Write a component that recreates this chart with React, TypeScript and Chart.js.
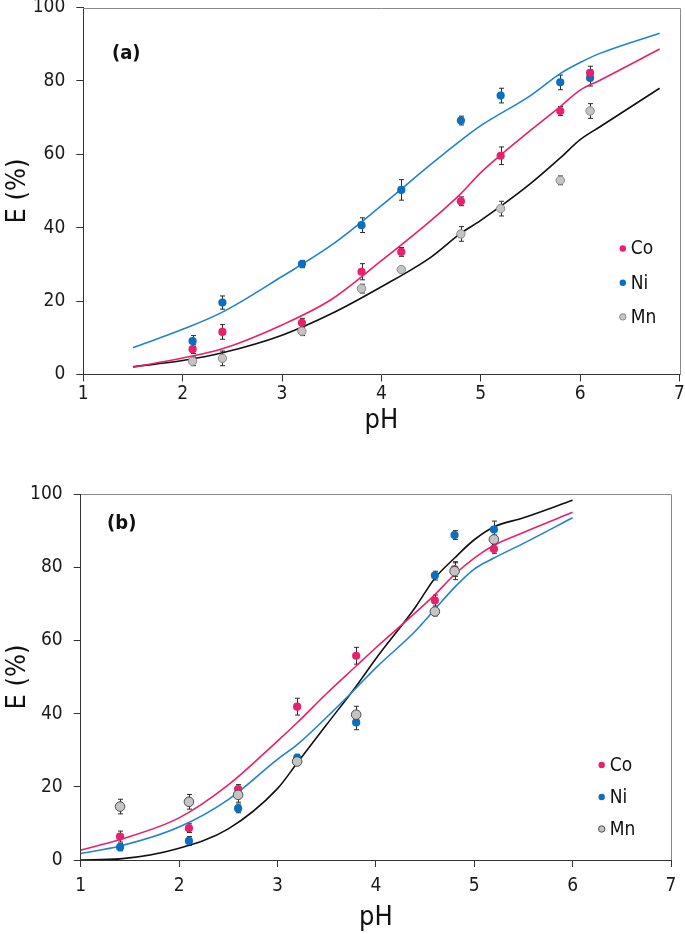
import React, { useEffect, useRef } from 'react';
import { Chart, registerables } from 'chart.js';
Chart.register(...registerables);

const FONT = "'DejaVu Sans Condensed', 'DejaVu Sans', sans-serif";
const PINK = '#E8206E';
const BLUE = '#0B6FC1';
const BLUE_LINE = '#2183CC';
const GRAY = '#C4C4C4';

// ---------- Panel (a) ----------
const phPointsA = [2.1, 2.4, 3.2, 3.8, 4.2, 4.8, 5.2, 5.8, 6.1];
const coA = [6.9, 11.6, 14.1, 28.0, 33.4, 47.2, 59.6, 71.8, 82.2];
const coErrA = [1.2, 2.0, 1.2, 2.2, 1.2, 1.2, 2.4, 1.2, 1.8];
const niA = [9.1, 19.6, 30.1, 40.7, 50.3, 69.2, 76.0, 79.6, 80.8];
const niErrA = [1.5, 1.8, 1.0, 2.0, 2.8, 1.2, 2.0, 2.0, 2.2];
const mnA = [3.6, 4.4, 11.8, 23.4, 28.6, 38.3, 45.2, 52.9, 71.8];
const mnErrA = [1.2, 2.0, 1.2, 1.2, 0.8, 2.0, 2.0, 1.2, 2.0];

const phCurveA = [1.5, 2.0, 2.4, 3.0, 3.5, 4.0, 4.5, 4.8, 5.0, 5.5, 5.8, 6.0, 6.2, 6.8];
const coCurveA = [2.0, 4.5, 7.0, 13.5, 20.5, 31.0, 42.0, 49.3, 55.0, 66.5, 73.0, 77.5, 80.2, 88.7];
const niCurveA = [7.3, 12.3, 17.0, 26.7, 35.3, 46.0, 57.3, 63.8, 67.8, 76.0, 82.0, 85.0, 87.5, 93.0];
const mnCurveA = [2.1, 3.8, 5.9, 10.7, 16.6, 23.9, 32.0, 38.5, 42.0, 52.0, 59.0, 64.0, 67.5, 78.0];

// ---------- Panel (b) ----------
const phPointsB = [1.4, 2.1, 2.6, 3.2, 3.8, 4.6, 4.8, 5.2];
const coB = [6.4, 8.7, 19.4, 41.9, 55.8, 70.9, 79.5, 85.0];
const coErrB = [1.5, 1.2, 1.2, 2.3, 2.3, 1.5, 2.0, 1.2];
const niB = [3.5, 5.2, 14.1, 27.9, 37.6, 77.7, 88.8, 90.3];
const niErrB = [1.0, 1.2, 1.2, 1.0, 2.0, 1.2, 1.2, 2.3];
const mnB = [14.6, 15.9, 17.8, 26.9, 39.7, 67.9, 78.9, 87.6];
const mnErrB = [2.0, 2.0, 2.0, 1.0, 2.3, 1.2, 2.3, 1.2];

const phCurveB = [1.0, 1.4, 2.0, 2.5, 3.0, 3.2, 3.5, 3.8, 4.0, 4.4, 4.6, 4.8, 5.0, 5.2, 5.5, 6.0];
const coCurveB = [2.7, 5.6, 11.5, 20.5, 32.5, 37.5, 45.5, 53.0, 58.0, 67.5, 72.5, 78.0, 82.5, 86.0, 89.5, 95.0];
const niCurveB = [1.8, 3.8, 9.0, 16.5, 27.5, 31.5, 39.0, 47.0, 52.5, 62.5, 68.5, 74.5, 79.5, 82.5, 86.5, 93.5];
const mnCurveB = [0.0, 0.3, 3.2, 8.5, 19.5, 26.5, 37.0, 47.5, 55.0, 69.0, 77.0, 82.5, 87.5, 91.0, 93.5, 98.3];

const legendLabels = ['Co', 'Ni', 'Mn'];
const xTicks = [1, 2, 3, 4, 5, 6, 7];
const yTicks = [0, 20, 40, 60, 80, 100];

const pts = (xs: number[], ys: number[]) => xs.map((x, i) => ({ x, y: ys[i] }));

const extrasPlugin = {
  id: 'extras',
  beforeDatasetsDraw(chart: any) {
    const ctx = chart.ctx;
    const ys = chart.scales.y;
    ctx.save();
    ctx.strokeStyle = '#2b2b2b';
    ctx.lineWidth = 1;
    chart.data.datasets.forEach((ds: any, i: number) => {
      if (!ds.errors) return;
      const meta = chart.getDatasetMeta(i);
      meta.data.forEach((el: any, j: number) => {
        const v = ds.data[j].y;
        const e = ds.errors[j];
        const x = Math.round(el.x) + 0.5;
        const y1 = ys.getPixelForValue(v + e);
        const y2 = ys.getPixelForValue(v - e);
        ctx.beginPath();
        ctx.moveTo(x, y1);
        ctx.lineTo(x, y2);
        ctx.moveTo(x - 2.5, y1);
        ctx.lineTo(x + 2.5, y1);
        ctx.moveTo(x - 2.5, y2);
        ctx.lineTo(x + 2.5, y2);
        ctx.stroke();
      });
    });
    ctx.restore();
  },
  afterDraw(chart: any, _args: any, opts: any) {
    const ctx = chart.ctx;
    const a = chart.chartArea;
    ctx.save();
    // top & right frame
    ctx.strokeStyle = '#8a8a8a';
    ctx.lineWidth = 1;
    ctx.beginPath();
    ctx.moveTo(Math.round(a.left), Math.round(a.top) + 0.5);
    ctx.lineTo(Math.round(a.right) + 0.5, Math.round(a.top) + 0.5);
    ctx.lineTo(Math.round(a.right) + 0.5, Math.round(a.bottom));
    ctx.stroke();
    // panel label
    ctx.fillStyle = '#111';
    ctx.font = `bold 20px ${FONT}`;
    ctx.textAlign = 'center';
    ctx.textBaseline = 'middle';
    ctx.fillText(opts.label, a.left + opts.labelDx, a.top + opts.labelDy);
    // legend
    const lg = opts.legend;
    ctx.font = `19px ${FONT}`;
    ctx.textAlign = 'left';
    lg.items.forEach((it: any, i: number) => {
      const x = a.left + lg.dx;
      const y = a.top + lg.dy + i * lg.gap;
      ctx.beginPath();
      ctx.arc(x, y, 3.2, 0, Math.PI * 2);
      ctx.fillStyle = it.fill;
      ctx.fill();
      if (it.stroke) {
        ctx.strokeStyle = it.stroke;
        ctx.lineWidth = 1;
        ctx.stroke();
      }
      ctx.fillStyle = '#111';
      ctx.fillText(it.text, x + 8, y + 1);
    });
    ctx.restore();
  },
};

function makeConfig(p: any) {
  const tickFont = { family: FONT, size: 19 };
  const titleFont = { family: FONT, size: 27 };
  const pointDs = (label: string, data: any, errs: number[], fill: string, stroke: string, r: number) => ({
    type: 'scatter',
    label,
    data,
    errors: errs,
    showLine: false,
    pointRadius: r,
    pointHoverRadius: r,
    backgroundColor: fill,
    borderColor: stroke,
    pointBorderWidth: stroke === fill ? 0 : 1,
  });
  const lineDs = (data: any, color: string) => ({
    type: 'scatter',
    data,
    showLine: true,
    pointRadius: 0,
    borderColor: color,
    borderWidth: 1.6,
    cubicInterpolationMode: 'monotone',
    fill: false,
  });
  return {
    type: 'scatter',
    data: {
      datasets: [
        pointDs('Mn', pts(p.ph, p.mn), p.mnErr, GRAY, p.mnStroke, p.mnR),
        pointDs('Co', pts(p.ph, p.co), p.coErr, PINK, PINK, 4.1),
        pointDs('Ni', pts(p.ph, p.ni), p.niErr, BLUE, BLUE, 4.1),
        lineDs(pts(p.phC, p.coC), PINK),
        lineDs(pts(p.phC, p.niC), BLUE_LINE),
        lineDs(pts(p.phC, p.mnC), '#111'),
      ],
    },
    options: {
      responsive: false,
      animation: false,
      events: [],
      layout: { padding: { top: p.padTop, right: p.padRight, left: 0, bottom: 0 } },
      plugins: {
        legend: { display: false },
        tooltip: { enabled: false },
        extras: {
          label: p.label,
          labelDx: p.labelDx,
          labelDy: p.labelDy,
          legend: {
            dx: p.legDx,
            dy: p.legDy,
            gap: p.legGap,
            items: [
              { text: legendLabels[0], fill: PINK },
              { text: legendLabels[1], fill: BLUE },
              { text: legendLabels[2], fill: GRAY, stroke: p.mnStroke },
            ],
          },
        },
      },
      scales: {
        x: {
          type: 'linear',
          min: 1,
          max: 7,
          afterBuildTicks: (s: any) => { s.ticks = xTicks.map((v) => ({ value: v })); },
          afterFit: (s: any) => {
            s.height = p.xH;
            s.paddingLeft = 0; s.paddingRight = 0; s.paddingTop = 0; s.paddingBottom = 0;
          },
          ticks: { font: tickFont, color: '#1a1a1a', padding: p.xTickPad, maxRotation: 0 },
          grid: { drawOnChartArea: false, drawTicks: true, tickLength: 7, color: '#333' },
          border: { color: '#333', width: 1 },
          title: { display: true, text: 'pH', font: titleFont, color: '#111', padding: { top: 0, bottom: p.xTitlePad } },
        },
        y: {
          type: 'linear',
          min: 0,
          max: 100,
          afterBuildTicks: (s: any) => { s.ticks = yTicks.map((v) => ({ value: v })); },
          afterFit: (s: any) => {
            s.width = p.yW;
            s.paddingLeft = 0; s.paddingRight = 0; s.paddingTop = 0; s.paddingBottom = 0;
          },
          ticks: { font: tickFont, color: '#1a1a1a', padding: 11 },
          grid: { drawOnChartArea: false, drawTicks: true, tickLength: 7, color: '#333' },
          border: { color: '#333', width: 1 },
          title: { display: true, text: 'E (%)', font: titleFont, color: '#111', padding: { top: p.yTitlePad, bottom: 0 } },
        },
      },
    },
    plugins: [extrasPlugin],
  };
}

function Panel(props: { top: number; height: number; cfg: any }) {
  const ref = useRef<HTMLCanvasElement>(null);
  useEffect(() => {
    const chart = new Chart(ref.current as HTMLCanvasElement, makeConfig(props.cfg) as any);
    return () => chart.destroy();
  }, []);
  return (
    <canvas
      ref={ref}
      width={685}
      height={props.height}
      style={{ position: 'absolute', left: 0, top: props.top, width: 685, height: props.height }}
    />
  );
}

const cfgA = {
  ph: phPointsA, co: coA, coErr: coErrA, ni: niA, niErr: niErrA, mn: mnA, mnErr: mnErrA,
  phC: phCurveA, coC: coCurveA, niC: niCurveA, mnC: mnCurveA,
  mnStroke: '#8c8c8c', mnR: 4.2,
  padTop: 7.5, padRight: 5.5, yW: 83.3, xH: 70.5, xTickPad: 1, xTitlePad: 8, yTitlePad: 1.5,
  label: '(a)', labelDx: 43, labelDy: 46,
  legDx: 539.5, legDy: 241, legGap: 34.2,
};

const cfgB = {
  ph: phPointsB, co: coB, coErr: coErrB, ni: niB, niErr: niErrB, mn: mnB, mnErr: mnErrB,
  phC: phCurveB, coC: coCurveB, niC: niCurveB, mnC: mnCurveB,
  mnStroke: '#4a4a4a', mnR: 4.8,
  padTop: 24, padRight: 14, yW: 80.7, xH: 74, xTickPad: 8, xTitlePad: 0, yTitlePad: 1.5,
  label: '(b)', labelDx: 41, labelDy: 30,
  legDx: 521, legDy: 271, legGap: 32,
};

export default function App() {
  return (
    <div style={{ position: 'absolute', left: 0, top: 0, width: 685, height: 934, background: '#fff' }}>
      <Panel top={0} height={445} cfg={cfgA} />
      <Panel top={470} height={464} cfg={cfgB} />
    </div>
  );
}
